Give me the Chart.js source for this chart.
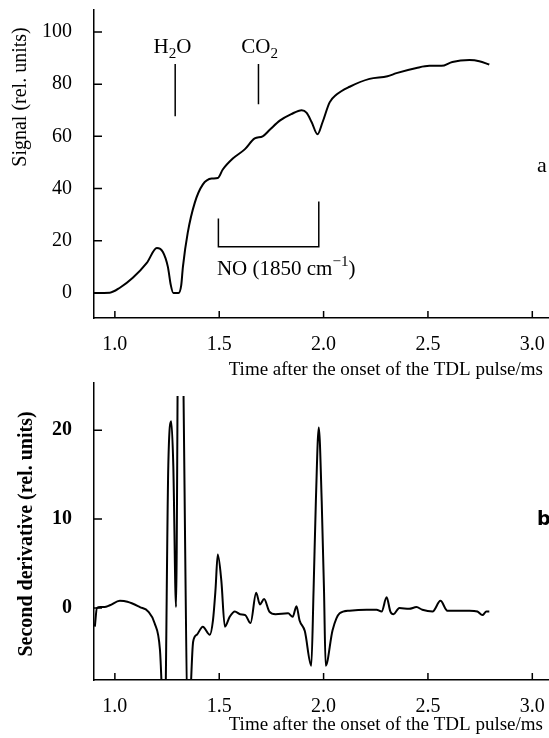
<!DOCTYPE html>
<html>
<head>
<meta charset="utf-8">
<script src="https://cdn.jsdelivr.net/npm/chart.js@4.4.1/dist/chart.umd.min.js"></script>
<style>
  html, body { margin: 0; padding: 0; background: #fff; }
  #wrap { position: relative; width: 549px; height: 738px; }
  canvas { position: absolute; left: 0; }
  #chart-a { top: 0; }
  #chart-b { top: 380px; }
</style>
</head>
<body>
<div id="wrap">
  <canvas id="chart-a" width="549" height="380"></canvas>
  <canvas id="chart-b" width="549" height="358"></canvas>
</div>
<script>
const SERIF = '"Liberation Serif", "Times New Roman", serif';

// panel a: signal vs time (ms)
const timeA = [0.90, 0.976, 1.024, 1.086, 1.153, 1.201, 1.230, 1.254, 1.268, 1.280, 1.305, 1.318, 1.326, 1.349, 1.383, 1.421, 1.464, 1.493, 1.517, 1.565, 1.622, 1.670, 1.708, 1.742, 1.790, 1.845, 1.895, 1.919, 1.943, 1.971, 1.995, 2.029, 2.062, 2.125, 2.220, 2.306, 2.349, 2.445, 2.507, 2.565, 2.617, 2.699, 2.746, 2.794];
const signalA = [0, 0.1, 2, 5.8, 11.5, 17.2, 15.7, 10, 3, 0, 0, 3, 10, 23, 34.6, 41.5, 43.8, 44, 47.3, 51.5, 55, 59.2, 60, 62.5, 66, 68.5, 70, 69, 65.4, 60.8, 65.4, 73, 76, 79, 82, 83, 84.2, 86.2, 87, 87, 88.5, 89.2, 88.8, 87.5];

// panel b: second derivative vs time (ms)
const timeB = [0.904, 0.914, 0.93, 0.95, 0.976, 1.024, 1.06, 1.12, 1.16, 1.19, 1.216, 1.238, 1.256, 1.27, 1.28, 1.293, 1.306, 1.316, 1.352, 1.375, 1.393, 1.421, 1.455, 1.47, 1.482, 1.493, 1.51, 1.527, 1.55, 1.575, 1.60, 1.625, 1.65, 1.677, 1.695, 1.715, 1.74, 1.77, 1.83, 1.852, 1.87, 1.885, 1.91, 1.941, 1.952, 1.963, 1.977, 1.991, 2.002, 2.01, 2.043, 2.077, 2.124, 2.206, 2.254, 2.278, 2.302, 2.32, 2.335, 2.363, 2.41, 2.445, 2.473, 2.522, 2.56, 2.593, 2.65, 2.699, 2.737, 2.761, 2.78, 2.794];
const derivB = [-2.1, 0, 0.1, 0.1, 0.3, 0.8, 0.7, 0.1, -0.4, -1.7, -4.7, -15, 16, 21, 16, 0.1, 40, 40, -14, -3.8, -3, -2.1, -3, -1.4, 2, 6, 3.1, -2.1, -1, -0.4, -0.7, -0.8, -1.7, 1.7, 0.4, 1.0, -0.4, -0.7, -0.6, -1, 0.2, -1.4, -2.6, -6.5, 2, 12, 20.3, 12, 2, -6.5, -2.5, -0.6, -0.3, -0.2, -0.2, -0.4, 1.2, -0.4, -0.7, 0, -0.1, 0.1, -0.2, -0.4, 0.8, -0.3, -0.3, -0.3, -0.4, -0.8, -0.4, -0.4];

const xTicks = [1.0, 1.5, 2.0, 2.5, 3.0];
const yTicksA = [0, 20, 40, 60, 80, 100];
const yTicksB = [0, 10, 20];

function points(xs, ys) {
  return xs.map((x, i) => ({ x, y: ys[i] }));
}

// draws text runs with sub/superscripts at baseline y
function drawRich(ctx, parts, x, y, size, align) {
  const font = s => `${s}px ${SERIF}`;
  let w = 0;
  parts.forEach(p => {
    ctx.font = font(p.sub || p.sup ? size * 0.72 : size);
    w += ctx.measureText(p.t).width;
  });
  let cx = align === 'center' ? x - w / 2 : x;
  ctx.textAlign = 'left';
  ctx.textBaseline = 'alphabetic';
  parts.forEach(p => {
    const s = p.sub || p.sup ? size * 0.72 : size;
    ctx.font = font(s);
    const dy = p.sub ? size * 0.25 : p.sup ? -size * 0.42 : 0;
    ctx.fillText(p.t, cx, y + dy);
    cx += ctx.measureText(p.t).width;
  });
}

function inwardTicks(chart) {
  const { ctx, chartArea, scales: { x, y } } = chart;
  ctx.save();
  ctx.strokeStyle = '#000';
  ctx.lineWidth = 1.5;
  ctx.beginPath();
  x.ticks.forEach(t => {
    const px = x.getPixelForValue(t.value);
    ctx.moveTo(px, chartArea.bottom);
    ctx.lineTo(px, chartArea.bottom - 7);
  });
  y.ticks.forEach(t => {
    const py = y.getPixelForValue(t.value);
    ctx.moveTo(chartArea.left, py);
    ctx.lineTo(chartArea.left + 8, py);
  });
  ctx.stroke();
  ctx.restore();
}

function verticalTitle(ctx, text, x, y, bold) {
  ctx.save();
  ctx.translate(x, y);
  ctx.rotate(-Math.PI / 2);
  ctx.font = `${bold ? 'bold ' : ''}20px ${SERIF}`;
  ctx.textAlign = 'center';
  ctx.textBaseline = 'alphabetic';
  ctx.fillText(text, 0, 0);
  ctx.restore();
}

const annotateA = {
  id: 'annotateA',
  afterDraw(chart) {
    const { ctx, chartArea, scales: { x, y } } = chart;
    inwardTicks(chart);
    ctx.save();
    ctx.fillStyle = '#000';
    ctx.strokeStyle = '#000';
    ctx.lineWidth = 1.5;
    ctx.beginPath();
    // H2O and CO2 markers
    ctx.moveTo(x.getPixelForValue(1.289), y.getPixelForValue(87.7));
    ctx.lineTo(x.getPixelForValue(1.289), y.getPixelForValue(67.7));
    ctx.moveTo(x.getPixelForValue(1.688), y.getPixelForValue(87.7));
    ctx.lineTo(x.getPixelForValue(1.688), y.getPixelForValue(72.3));
    // NO bracket
    ctx.moveTo(x.getPixelForValue(1.496), y.getPixelForValue(28.5));
    ctx.lineTo(x.getPixelForValue(1.496), y.getPixelForValue(17.7));
    ctx.lineTo(x.getPixelForValue(1.977), y.getPixelForValue(17.7));
    ctx.lineTo(x.getPixelForValue(1.977), y.getPixelForValue(35));
    ctx.stroke();

    drawRich(ctx, [{ t: 'H' }, { t: '2', sub: true }, { t: 'O' }], x.getPixelForValue(1.276), y.getPixelForValue(92), 21, 'center');
    drawRich(ctx, [{ t: 'CO' }, { t: '2', sub: true }], x.getPixelForValue(1.694), y.getPixelForValue(92), 21, 'center');
    drawRich(ctx, [{ t: 'NO (1850 cm' }, { t: '\u22121', sup: true }, { t: ')' }], x.getPixelForValue(1.489), y.getPixelForValue(6.9), 21, 'left');

    verticalTitle(ctx, 'Signal (rel. units)', 26, 97, false);

    ctx.font = `19px ${SERIF}`;
    ctx.textAlign = 'right';
    ctx.textBaseline = 'alphabetic';
    ctx.fillText('Time after the onset of the TDL pulse/ms', chartArea.right - 6, 375);

    ctx.font = `22px ${SERIF}`;
    ctx.textAlign = 'left';
    ctx.fillText('a', 537, 172);
    ctx.restore();
  }
};

const annotateB = {
  id: 'annotateB',
  afterDraw(chart) {
    const { ctx, chartArea } = chart;
    inwardTicks(chart);
    ctx.save();
    ctx.fillStyle = '#000';
    verticalTitle(ctx, 'Second derivative (rel. units)', 32, 154, true);

    ctx.font = `19px ${SERIF}`;
    ctx.textAlign = 'right';
    ctx.textBaseline = 'alphabetic';
    ctx.fillText('Time after the onset of the TDL pulse/ms', chartArea.right - 6, 350);

    ctx.font = 'bold 19px "DejaVu Sans", sans-serif';
    ctx.textAlign = 'left';
    ctx.fillText('b', 537, 145);
    ctx.restore();
  }
};

function fixedTicks(values) {
  return scale => { scale.ticks = values.map(v => ({ value: v })); };
}

function makeChart(canvasId, data, opts) {
  return new Chart(document.getElementById(canvasId), {
    type: 'line',
    data: {
      datasets: [{
        data,
        borderColor: '#000',
        borderWidth: 2,
        pointRadius: 0,
        fill: false,
        cubicInterpolationMode: 'monotone',
        clip: opts.clip,
      }]
    },
    options: {
      responsive: false,
      animation: false,
      events: [],
      layout: { padding: { top: opts.padTop, left: 0, right: 0, bottom: 0 } },
      plugins: { legend: { display: false }, tooltip: { enabled: false } },
      scales: {
        x: {
          type: 'linear',
          min: 0.9, max: 3.08,
          grid: { display: false },
          border: { display: true, color: '#000', width: 1.5 },
          ticks: {
            color: '#000', font: { family: SERIF, size: 20 }, padding: 7,
            maxRotation: 0, autoSkip: false,
            callback: v => v.toFixed(1),
          },
          afterBuildTicks: fixedTicks(xTicks),
          afterFit: s => { s.height = opts.xHeight; s.paddingLeft = 0; s.paddingRight = 0; },
        },
        y: {
          type: 'linear',
          min: opts.yMin, max: opts.yMax,
          grid: { display: false },
          border: { display: true, color: '#000', width: 1.5 },
          ticks: {
            color: '#000', font: { family: SERIF, size: 20, weight: opts.yBold ? 'bold' : 'normal' }, padding: 14,
            autoSkip: false,
          },
          afterBuildTicks: fixedTicks(opts.yTicks),
          afterFit: s => { s.width = 94; s.paddingTop = 0; s.paddingBottom = 0; },
        }
      }
    },
    plugins: [opts.plugin]
  });
}

makeChart('chart-a', points(timeA, signalA), {
  padTop: 10, xHeight: 62, yMin: -9.6, yMax: 108.4, yTicks: yTicksA, yBold: false,
  plugin: annotateA, clip: 0,
});

makeChart('chart-b', points(timeB, derivB), {
  padTop: 3, xHeight: 58, yMin: -8.1, yMax: 25.3, yTicks: yTicksB, yBold: true,
  plugin: annotateB, clip: { left: 0, top: -13, right: 0, bottom: 0 },
});
</script>
</body>
</html>
